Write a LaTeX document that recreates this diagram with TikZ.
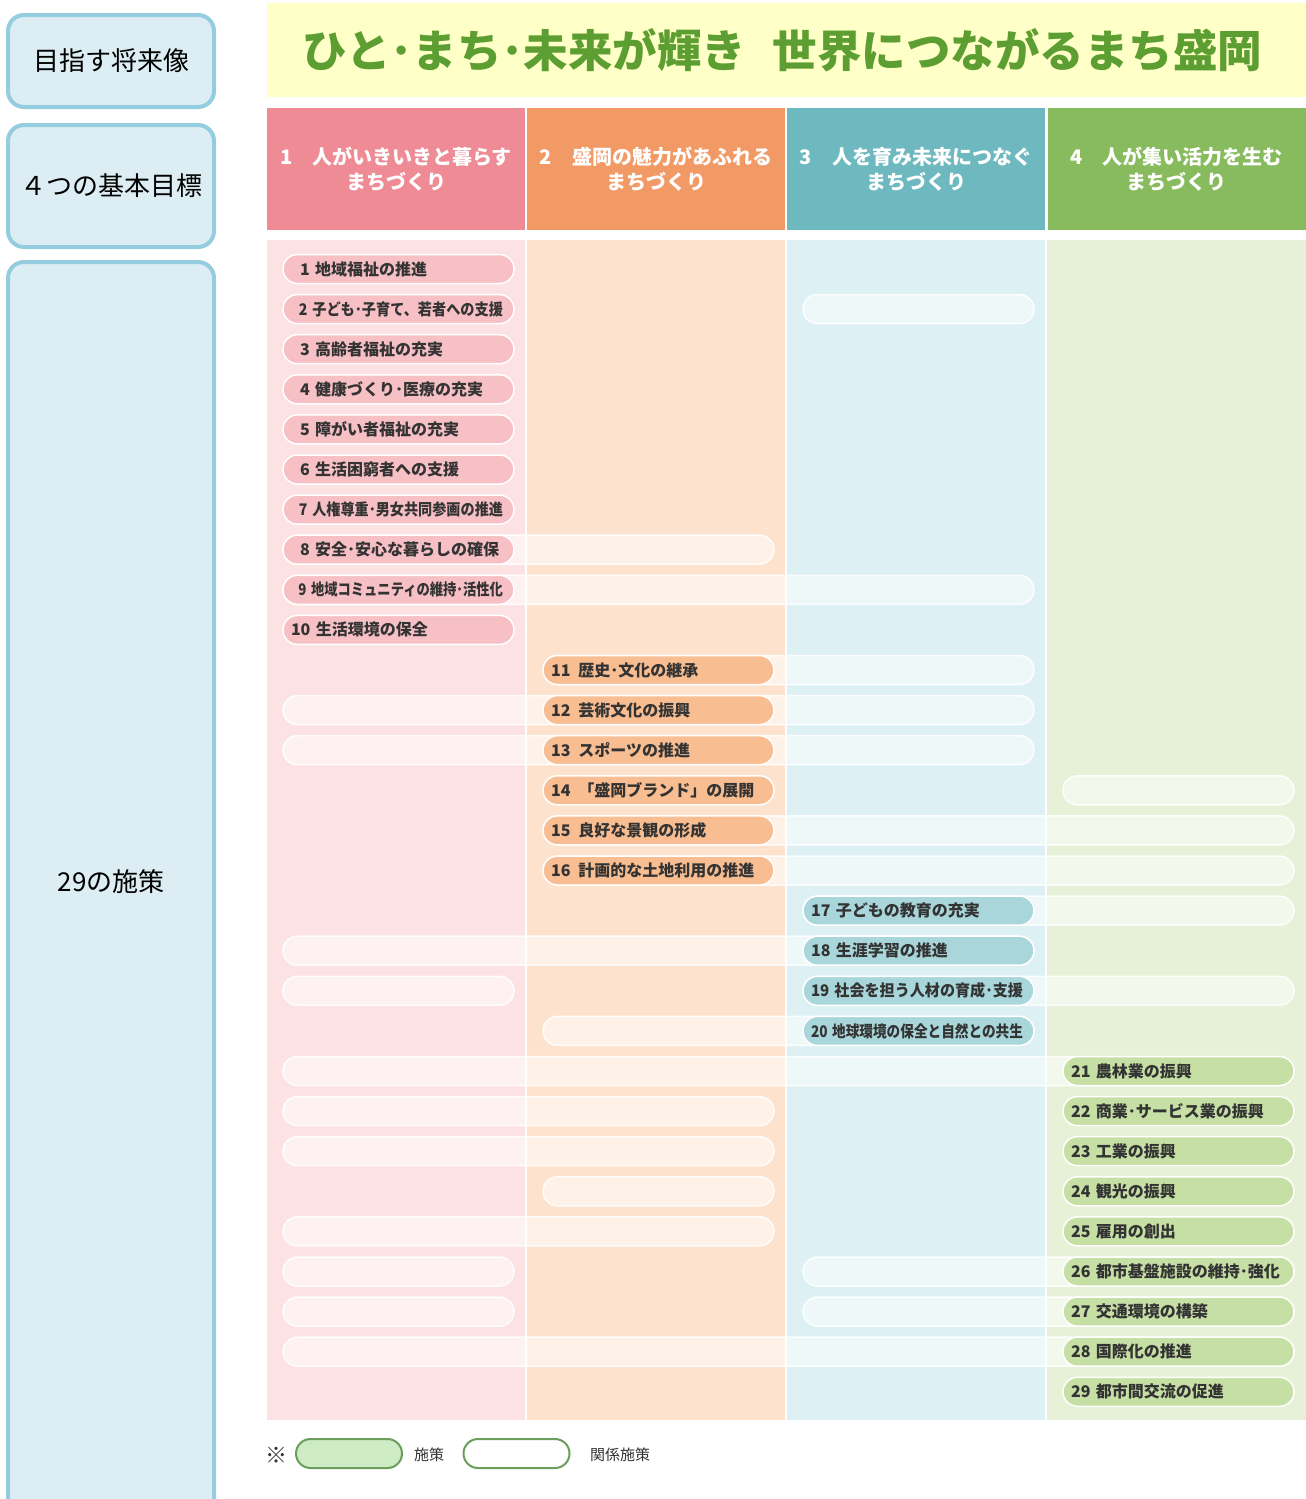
\documentclass[tikz,border=0pt]{standalone}
\usepackage{fontspec}
\setmainfont{Noto Sans CJK JP}
\usepackage{graphicx}
\definecolor{leftfill}{HTML}{DCEEF4}
\definecolor{leftdraw}{HTML}{95CDE0}
\definecolor{titlebg}{HTML}{FFFFC8}
\definecolor{titletx}{HTML}{5C9E31}
\definecolor{hA}{HTML}{EE8B95}
\definecolor{hB}{HTML}{F29A66}
\definecolor{hC}{HTML}{6EB8BF}
\definecolor{hD}{HTML}{88BB5E}
\definecolor{bA}{HTML}{FDE2E4}
\definecolor{bB}{HTML}{FDE3CD}
\definecolor{bC}{HTML}{DDF0F3}
\definecolor{bD}{HTML}{E6F1D7}
\definecolor{pA}{HTML}{F7C0C5}
\definecolor{pB}{HTML}{F8BD91}
\definecolor{pC}{HTML}{A8D6DA}
\definecolor{pD}{HTML}{C5DFA4}
\definecolor{legfill}{HTML}{CDEBC4}
\definecolor{legdraw}{HTML}{6A9E5A}
\definecolor{pilltext}{HTML}{333333}
\newsavebox\pbox
\newcommand\ptxt[1]{\sbox\pbox{#1}\ifdim\wd\pbox>212pt\resizebox{212pt}{\ht\pbox}{\usebox\pbox}\else\usebox\pbox\fi}
\newcommand\relpill[4]{\node[relbox, minimum width={#3-#2}] (#4) at ({(#2+#3)/2},{269+(#1-1)*40.1}) {};}
\newcommand\mpill[4]{\node[mainbox, fill=#2] (#3) at ({398.5+(#1-1)*260},{269+(#4-1)*40.1})}
\begin{document}
\begin{tikzpicture}[x=1pt,y=-1pt,
  leftbox/.style={draw=leftdraw, fill=leftfill, line width=4pt, rounded corners=16pt, font=\fontsize{26}{26}\selectfont, text=black},
  hdr/.style={minimum width=258pt, minimum height=122pt, inner sep=0pt, align=center, text=white, font=\fontsize{20}{25}\selectfont\bfseries},
  relbox/.style={draw=white, line width=1.5pt, fill=white, fill opacity=0.55, draw opacity=0.9, rounded corners=14.5pt, minimum height=29pt, inner sep=0pt},
  mainbox/.style={draw=white, line width=1.5pt, rounded corners=14.5pt, minimum height=29pt, text width=215pt, inner xsep=8pt, inner ysep=0pt, align=left, text=pilltext, font=\fontsize{16}{16}\selectfont\bfseries},
  legbox/.style={draw=legdraw, line width=2pt, rounded corners=14.5pt, minimum width=106pt, minimum height=29pt, inner sep=0pt},
  legtext/.style={font=\fontsize{15}{15}\selectfont, text=black!80, inner sep=0pt}
]
\useasboundingbox (0,0) rectangle (1306,1499);
\clip (0,0) rectangle (1306,1499);
\fill[white] (0,0) rectangle (1306,1499);

% left column boxes
\node[leftbox, minimum width=206pt, minimum height=92pt] (vision) at (111,61) {目指す将来像};
\node[leftbox, minimum width=206pt, minimum height=122pt] (goals) at (111,186) {４つの基本目標};
\node[leftbox, minimum width=206pt, minimum height=1300pt] (measures) at (111,912) {};
\node[font=\fontsize{26}{26}\selectfont, text=black] (measurestxt) at (111,882) {29の施策};

% title
\fill[titlebg] (267,3) rectangle (1306,97);
\node[font=\fontsize{46}{46}\selectfont\bfseries, text=titletx, inner sep=0pt] (title) at (782.5,50) {\resizebox{959pt}{!}{ひと･まち･未来が輝き\hspace{0.6em}世界につながるまち盛岡}};

% headers
\node[hdr, fill=hA] (g1) at (396,169) {1　人がいきいきと暮らす\\まちづくり};
\node[hdr, fill=hB] (g2) at (656,169) {2　盛岡の魅力があふれる\\まちづくり};
\node[hdr, fill=hC] (g3) at (916,169) {3　人を育み未来につなぐ\\まちづくり};
\node[hdr, fill=hD] (g4) at (1176.5,169) {4　人が集い活力を生む\\まちづくり};

% column bodies
\fill[bA] (267,240) rectangle (525,1420);
\fill[bB] (527,240) rectangle (785,1420);
\fill[bC] (787,240) rectangle (1045,1420);
\fill[bD] (1047,240) rectangle (1306,1420);

% related measures
\relpill{2}{803}{1034}{r2}
\relpill{8}{283}{774}{r8}
\relpill{9}{283}{1034}{r9}
\relpill{11}{543}{1034}{r11}
\relpill{12}{283}{1034}{r12}
\relpill{13}{283}{1034}{r13}
\relpill{14}{1063}{1294}{r14}
\relpill{15}{543}{1294}{r15}
\relpill{16}{543}{1294}{r16}
\relpill{17}{803}{1294}{r17}
\relpill{18}{283}{1034}{r18}
\relpill{19}{283}{514}{r19a}
\relpill{19}{803}{1294}{r19b}
\relpill{20}{543}{1034}{r20}
\relpill{21}{283}{1294}{r21}
\relpill{22}{283}{774}{r22}
\relpill{23}{283}{774}{r23}
\relpill{24}{543}{774}{r24}
\relpill{25}{283}{774}{r25}
\relpill{26}{283}{514}{r26a}
\relpill{26}{803}{1294}{r26b}
\relpill{27}{283}{514}{r27a}
\relpill{27}{803}{1294}{r27b}
\relpill{28}{283}{1294}{r28}

% main measures
\mpill{1}{pA}{m1}{1}{\ptxt{\hspace{9pt}1 地域福祉の推進}};
\mpill{1}{pA}{m2}{2}{\ptxt{\hspace{9pt}2 子ども･子育て、若者への支援}};
\mpill{1}{pA}{m3}{3}{\ptxt{\hspace{9pt}3 高齢者福祉の充実}};
\mpill{1}{pA}{m4}{4}{\ptxt{\hspace{9pt}4 健康づくり･医療の充実}};
\mpill{1}{pA}{m5}{5}{\ptxt{\hspace{9pt}5 障がい者福祉の充実}};
\mpill{1}{pA}{m6}{6}{\ptxt{\hspace{9pt}6 生活困窮者への支援}};
\mpill{1}{pA}{m7}{7}{\ptxt{\hspace{9pt}7 人権尊重･男女共同参画の推進}};
\mpill{1}{pA}{m8}{8}{\ptxt{\hspace{9pt}8 安全･安心な暮らしの確保}};
\mpill{1}{pA}{m9}{9}{\ptxt{\hspace{9pt}9 地域コミュニティの維持･活性化}};
\mpill{1}{pA}{m10}{10}{\ptxt{10 生活環境の保全}};
\mpill{2}{pB}{m11}{11}{\ptxt{11\enspace 歴史･文化の継承}};
\mpill{2}{pB}{m12}{12}{\ptxt{12\enspace 芸術文化の振興}};
\mpill{2}{pB}{m13}{13}{\ptxt{13\enspace スポーツの推進}};
\mpill{2}{pB}{m14}{14}{\ptxt{14\enspace「盛岡ブランド」の展開}};
\mpill{2}{pB}{m15}{15}{\ptxt{15\enspace 良好な景観の形成}};
\mpill{2}{pB}{m16}{16}{\ptxt{16\enspace 計画的な土地利用の推進}};
\mpill{3}{pC}{m17}{17}{\ptxt{17 子どもの教育の充実}};
\mpill{3}{pC}{m18}{18}{\ptxt{18 生涯学習の推進}};
\mpill{3}{pC}{m19}{19}{\ptxt{19 社会を担う人材の育成･支援}};
\mpill{3}{pC}{m20}{20}{\ptxt{20 地球環境の保全と自然との共生}};
\mpill{4}{pD}{m21}{21}{\ptxt{21 農林業の振興}};
\mpill{4}{pD}{m22}{22}{\ptxt{22 商業･サービス業の振興}};
\mpill{4}{pD}{m23}{23}{\ptxt{23 工業の振興}};
\mpill{4}{pD}{m24}{24}{\ptxt{24 観光の振興}};
\mpill{4}{pD}{m25}{25}{\ptxt{25 雇用の創出}};
\mpill{4}{pD}{m26}{26}{\ptxt{26 都市基盤施設の維持･強化}};
\mpill{4}{pD}{m27}{27}{\ptxt{27 交通環境の構築}};
\mpill{4}{pD}{m28}{28}{\ptxt{28 国際化の推進}};
\mpill{4}{pD}{m29}{29}{\ptxt{29 都市間交流の促進}};

% legend
\node[font=\fontsize{22}{22}\selectfont, text=black!80, inner sep=0pt] (kome) at (276,1455) {※};
\node[legbox, fill=legfill] (legmain) at (349,1453.5) {};
\node[legtext] (legmaintxt) at (429,1455) {施策};
\node[legbox, fill=white] (legrel) at (516.5,1453.5) {};
\node[legtext] (legreltxt) at (620,1455) {関係施策};
\end{tikzpicture}
\end{document}
